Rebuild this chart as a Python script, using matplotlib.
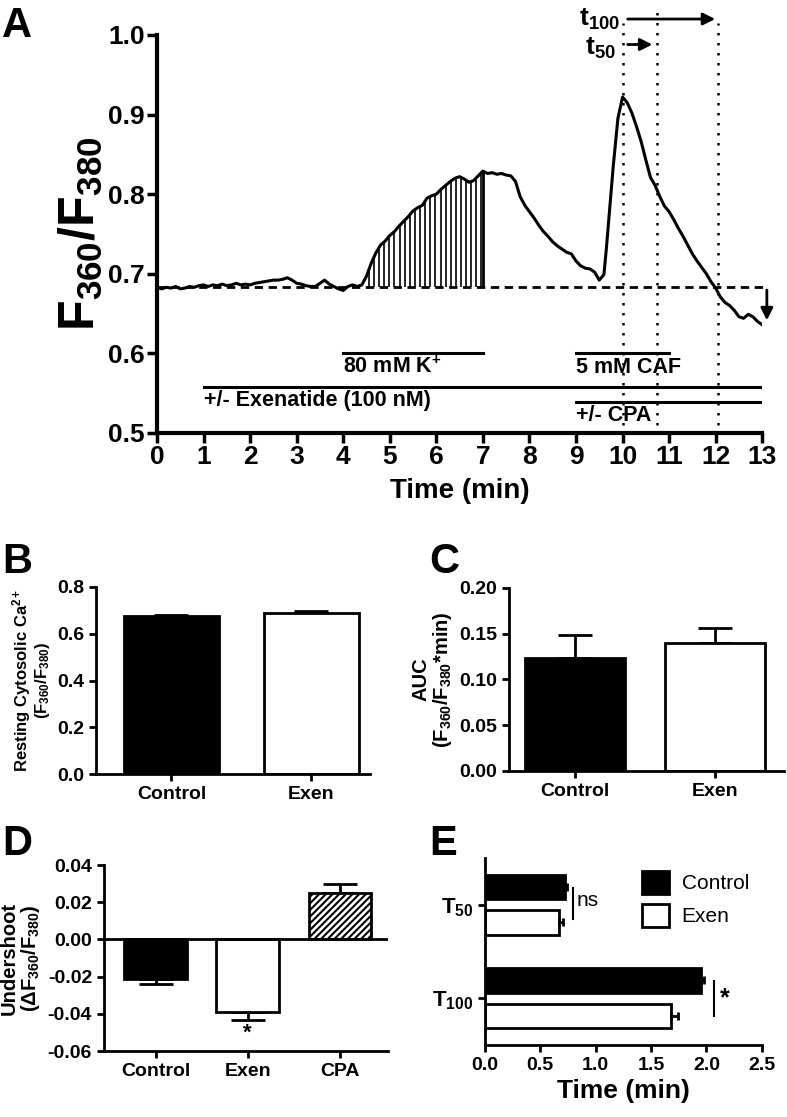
import numpy as np
import matplotlib
matplotlib.use('Agg')
import matplotlib.pyplot as plt
from matplotlib.patches import Patch

# ---- panel A: example Fura-2 trace ----
trace_time = [0.0, 0.1, 0.2, 0.3, 0.4, 0.5, 0.6, 0.7, 0.8, 0.9,
              1.0, 1.1, 1.2, 1.3, 1.4, 1.5, 1.6, 1.7, 1.8, 1.9,
              2.0, 2.1, 2.2, 2.3, 2.4, 2.5, 2.6, 2.7, 2.8, 2.9,
              3.0, 3.1, 3.2, 3.3, 3.4, 3.5, 3.6, 3.7, 3.8, 3.9,
              4.0, 4.1, 4.2, 4.3, 4.4, 4.5, 4.6, 4.7, 4.8, 4.9,
              5.0, 5.1, 5.2, 5.3, 5.4, 5.5, 5.6, 5.7, 5.8, 5.9,
              6.0, 6.1, 6.2, 6.3, 6.4, 6.5, 6.6, 6.7, 6.8, 6.9,
              7.0, 7.1, 7.2, 7.3, 7.4, 7.5, 7.6, 7.7, 7.8, 7.9,
              8.0, 8.1, 8.2, 8.3, 8.4, 8.5, 8.6, 8.7, 8.8, 8.9,
              9.0, 9.1, 9.2, 9.3, 9.4, 9.5, 9.6, 9.65, 9.7, 9.8, 9.9,
              10.0, 10.1, 10.2, 10.3, 10.4, 10.5, 10.6, 10.7, 10.8, 10.9,
              11.0, 11.1, 11.2, 11.3, 11.4, 11.5, 11.6, 11.7, 11.8, 11.9,
              12.0, 12.1, 12.2, 12.3, 12.4, 12.5, 12.6, 12.7, 12.8, 12.9, 13.0]
trace_ratio = [0.683, 0.681, 0.683, 0.682, 0.684, 0.681, 0.682, 0.684, 0.683, 0.685,
               0.686, 0.684, 0.686, 0.685, 0.687, 0.685, 0.686, 0.688, 0.686, 0.687,
               0.686, 0.688, 0.689, 0.690, 0.691, 0.692, 0.692, 0.693, 0.695, 0.692,
               0.688, 0.687, 0.685, 0.684, 0.684, 0.688, 0.692, 0.687, 0.684, 0.681,
               0.679, 0.684, 0.686, 0.684, 0.686, 0.697, 0.713, 0.726, 0.736, 0.741,
               0.748, 0.753, 0.760, 0.766, 0.772, 0.779, 0.783, 0.786, 0.795, 0.798,
               0.800, 0.806, 0.811, 0.816, 0.820, 0.822, 0.819, 0.815, 0.817, 0.823,
               0.829, 0.826, 0.827, 0.825, 0.826, 0.824, 0.823, 0.816, 0.797, 0.786,
               0.778, 0.770, 0.761, 0.753, 0.747, 0.740, 0.735, 0.731, 0.727, 0.725,
               0.716, 0.710, 0.707, 0.706, 0.702, 0.692, 0.699, 0.730, 0.765, 0.835, 0.895,
               0.922, 0.915, 0.902, 0.885, 0.866, 0.843, 0.821, 0.811, 0.797, 0.785,
               0.778, 0.768, 0.757, 0.747, 0.736, 0.725, 0.716, 0.708, 0.700, 0.690,
               0.682, 0.671, 0.664, 0.660, 0.654, 0.646, 0.644, 0.649, 0.646, 0.640, 0.636]
baseline = 0.683
auc_start, auc_end = 4.5, 7.0
t_peak, t_50, t_100 = 10.0, 10.75, 12.05
undershoot_min = 0.638

# treatment bars: (label, start, end, level)
treatments = [('80 mM K$^{+}$', 4, 7, 0.600),
              ('5 mM CAF', 9, 11, 0.600),
              ('+/- Exenatide (100 nM)', 1, 13, 0.558),
              ('+/- CPA', 9, 13, 0.539)]

# ---- panels B, C ----
groups_bc = ['Control', 'Exen']
resting = [0.677, 0.690]
resting_err = [0.003, 0.008]
auc = [0.124, 0.140]
auc_err = [0.025, 0.016]

# ---- panel D ----
groups_d = ['Control', 'Exen', 'CPA']
undershoot = [-0.021, -0.039, 0.025]
undershoot_err = [0.003, 0.0045, 0.005]

# ---- panel E ----
kinetics = ['T$_{50}$', 'T$_{100}$']
time_control = [0.72, 1.95]
time_control_err = [0.025, 0.03]
time_exen = [0.67, 1.68]
time_exen_err = [0.04, 0.06]

FAM = ['Liberation Sans', 'DejaVu Sans']
plt.rcParams['font.family'] = FAM
plt.rcParams['font.weight'] = 'bold'
plt.rcParams['axes.labelweight'] = 'bold'
plt.rcParams['mathtext.fontset'] = 'custom'
plt.rcParams['mathtext.rm'] = 'Liberation Sans:bold'
plt.rcParams['mathtext.bf'] = 'Liberation Sans:bold'
plt.rcParams['mathtext.it'] = 'Liberation Sans:bold'
plt.rcParams['axes.linewidth'] = 2
plt.rcParams['xtick.major.width'] = 2
plt.rcParams['ytick.major.width'] = 2
plt.rcParams['hatch.linewidth'] = 1.5

fig = plt.figure(figsize=(7.87, 11.17), dpi=100)


def style(ax, lw=2):
    for s in ['top', 'right']:
        ax.spines[s].set_visible(False)
    for s in ['left', 'bottom']:
        ax.spines[s].set_linewidth(lw)


# ================= A =================
ax = fig.add_axes([0.1995, 0.6124, 0.769, 0.3563])
style(ax, 3)
ax.plot(trace_time, trace_ratio, color='black', lw=2.2)
ax.plot([0, 13.1], [baseline, baseline], color='black', lw=2, ls=(0, (3, 2)), clip_on=False)
hatch_t = np.arange(auc_start + 0.05, auc_end, 0.11)
ax.vlines(hatch_t, baseline, np.interp(hatch_t, trace_time, trace_ratio), color='black', lw=1.2)
ax.vlines(auc_end, baseline, np.interp(auc_end, trace_time, trace_ratio), color='black', lw=2)
for tx, top in [(t_peak, 1.015), (t_50, 1.03), (t_100, 1.015)]:
    ax.plot([tx, tx], [0.51, top], color='black', lw=1.8, ls=(0, (1, 3)), clip_on=False)
ax.annotate('', xy=(13.1, undershoot_min), xytext=(13.1, baseline),
            arrowprops=dict(arrowstyle='-|>', color='black', lw=2, mutation_scale=18),
            annotation_clip=False)
ax.annotate('', xy=(t_100, 1.02), xytext=(t_peak + 0.05, 1.02),
            arrowprops=dict(arrowstyle='-|>', color='black', lw=2, mutation_scale=18),
            annotation_clip=False)
ax.annotate('', xy=(t_50 - 0.05, 0.988), xytext=(t_peak + 0.05, 0.988),
            arrowprops=dict(arrowstyle='-|>', color='black', lw=2, mutation_scale=18),
            annotation_clip=False)
ax.text(t_peak - 0.05, 1.02, 't$_{100}$', ha='right', va='center', fontsize=19)
ax.text(t_peak - 0.15, 0.983, 't$_{50}$', ha='right', va='center', fontsize=19)
for label, t0, t1, lev in treatments:
    ax.plot([t0, t1], [lev, lev], color='black', lw=2.2)
    ax.text(t0, lev - 0.004, label, ha='left', va='top', fontsize=15.5)
ax.set_xlim(0, 13)
ax.set_ylim(0.5, 1.0)
ax.set_xticks(range(0, 14))
ax.set_yticks([0.5, 0.6, 0.7, 0.8, 0.9, 1.0])
ax.set_yticklabels(['0.5', '0.6', '0.7', '0.8', '0.9', '1.0'])
ax.tick_params(direction='out', length=7, width=2.5, labelsize=19, pad=2)
ax.set_xlabel('Time (min)', fontsize=20, labelpad=6)
ax.set_ylabel('F$_{360}$/F$_{380}$', fontsize=36, labelpad=2)
fig.text(0.003, 0.995, 'A', fontsize=30, fontweight='bold', va='top')


def bar_panel(ax, vals, errs, colors, hatches, xlim, width):
    x = np.arange(len(vals))
    for i in range(len(vals)):
        ax.bar(x[i], vals[i], width=width, color=colors[i], edgecolor='black', lw=2,
               hatch=hatches[i], zorder=2)
        sgn = 1 if vals[i] >= 0 else -1
        ax.errorbar(x[i], vals[i], yerr=[[0], [errs[i]]] if sgn > 0 else [[errs[i]], [0]],
                    color='black', capsize=12, capthick=2, elinewidth=2, zorder=1)
    ax.set_xlim(*xlim)
    ax.set_xticks(x)
    ax.tick_params(direction='out', length=5, width=2, labelsize=14)


# ================= B =================
ax = fig.add_axes([0.122, 0.307, 0.348, 0.1675])
style(ax)
bar_panel(ax, resting, resting_err, ['black', 'white'], [None, None], (-0.54, 1.42), 0.68)
ax.set_ylim(0, 0.8)
ax.set_yticks([0, 0.2, 0.4, 0.6, 0.8])
ax.set_yticklabels(['0.0', '0.2', '0.4', '0.6', '0.8'])
ax.set_xticklabels(groups_bc)
ax.set_ylabel('Resting Cytosolic Ca$^{2+}$\n(F$_{360}$/F$_{380}$)', fontsize=12,
              linespacing=1.0, labelpad=4)
fig.text(0.003, 0.515, 'B', fontsize=30, fontweight='bold', va='top')

# ================= C =================
ax = fig.add_axes([0.647, 0.3098, 0.349, 0.1638])
style(ax)
bar_panel(ax, auc, auc_err, ['black', 'white'], [None, None], (-0.47, 1.49), 0.71)
ax.set_ylim(0, 0.2)
ax.set_yticks([0, 0.05, 0.10, 0.15, 0.20])
ax.set_yticklabels(['0.00', '0.05', '0.10', '0.15', '0.20'])
ax.set_xticklabels(groups_bc)
ax.set_ylabel('AUC\n(F$_{360}$/F$_{380}$*min)', fontsize=14.5, linespacing=1.0, labelpad=4)
fig.text(0.545, 0.515, 'C', fontsize=30, fontweight='bold', va='top')

# ================= D =================
ax = fig.add_axes([0.132, 0.059, 0.361, 0.1666])
style(ax)
bar_panel(ax, undershoot, undershoot_err, ['black', 'white', 'white'], [None, None, '/////'],
          (-0.56, 2.52), 0.68)
ax.axhline(0, color='black', lw=2, zorder=3)
ax.set_ylim(-0.06, 0.04)
ax.set_yticks([-0.06, -0.04, -0.02, 0, 0.02, 0.04])
ax.set_yticklabels(['-0.06', '-0.04', '-0.02', '0.00', '0.02', '0.04'])
ax.set_xticklabels(groups_d)
ax.text(1, undershoot[1] - undershoot_err[1] - 0.0015, '*', ha='center', va='top', fontsize=16)
ax.set_ylabel('Undershoot\n(\u0394F$_{360}$/F$_{380}$)', fontsize=14.5, linespacing=1.0,
              labelpad=4)
fig.text(0.003, 0.262, 'D', fontsize=30, fontweight='bold', va='top')

# ================= E =================
ax = fig.add_axes([0.616, 0.0645, 0.352, 0.1675])
style(ax)
ypos = np.array([1.5, 0.5])
off, h = 0.19, 0.26
ax.barh(ypos + off, time_control, height=h, color='black', edgecolor='black', lw=2,
        xerr=[[0, 0], time_control_err], error_kw=dict(elinewidth=2, capsize=3, capthick=2))
ax.barh(ypos - off, time_exen, height=h, color='white', edgecolor='black', lw=2,
        xerr=[[0, 0], time_exen_err], error_kw=dict(elinewidth=2, capsize=3, capthick=2))
ax.plot([0.795, 0.795], [1.35, 1.68], color='black', lw=1.5)
ax.text(0.83, 1.54, 'ns', ha='left', va='center', fontsize=15, fontweight='normal')
ax.plot([2.065, 2.065], [0.31, 0.68], color='black', lw=1.5)
ax.text(2.12, 0.5, '*', ha='left', va='center', fontsize=18)
ax.set_xlim(0, 2.5)
ax.set_ylim(0, 2)
ax.set_yticks(ypos)
ax.set_yticklabels(kinetics)
ax.set_xticks([0, 0.5, 1.0, 1.5, 2.0, 2.5])
ax.set_xticklabels(['0.0', '0.5', '1.0', '1.5', '2.0', '2.5'])
ax.tick_params(direction='out', length=5, width=2, labelsize=14)
ax.tick_params(axis='y', labelsize=16)
ax.set_xlabel('Time (min)', fontsize=19, labelpad=4)
handles = [Patch(facecolor='black', edgecolor='black', lw=2, label='Control'),
           Patch(facecolor='white', edgecolor='black', lw=2, label='Exen')]
ax.legend(handles=handles, loc='upper left', bbox_to_anchor=(0.5, 1.03), frameon=False,
          prop=dict(family=FAM, weight='normal', size=15), handlelength=1.3,
          handleheight=1.3, labelspacing=0.5, handletextpad=0.6)
fig.text(0.545, 0.262, 'E', fontsize=30, fontweight='bold', va='top')

fig.savefig('out.png', dpi=100)
